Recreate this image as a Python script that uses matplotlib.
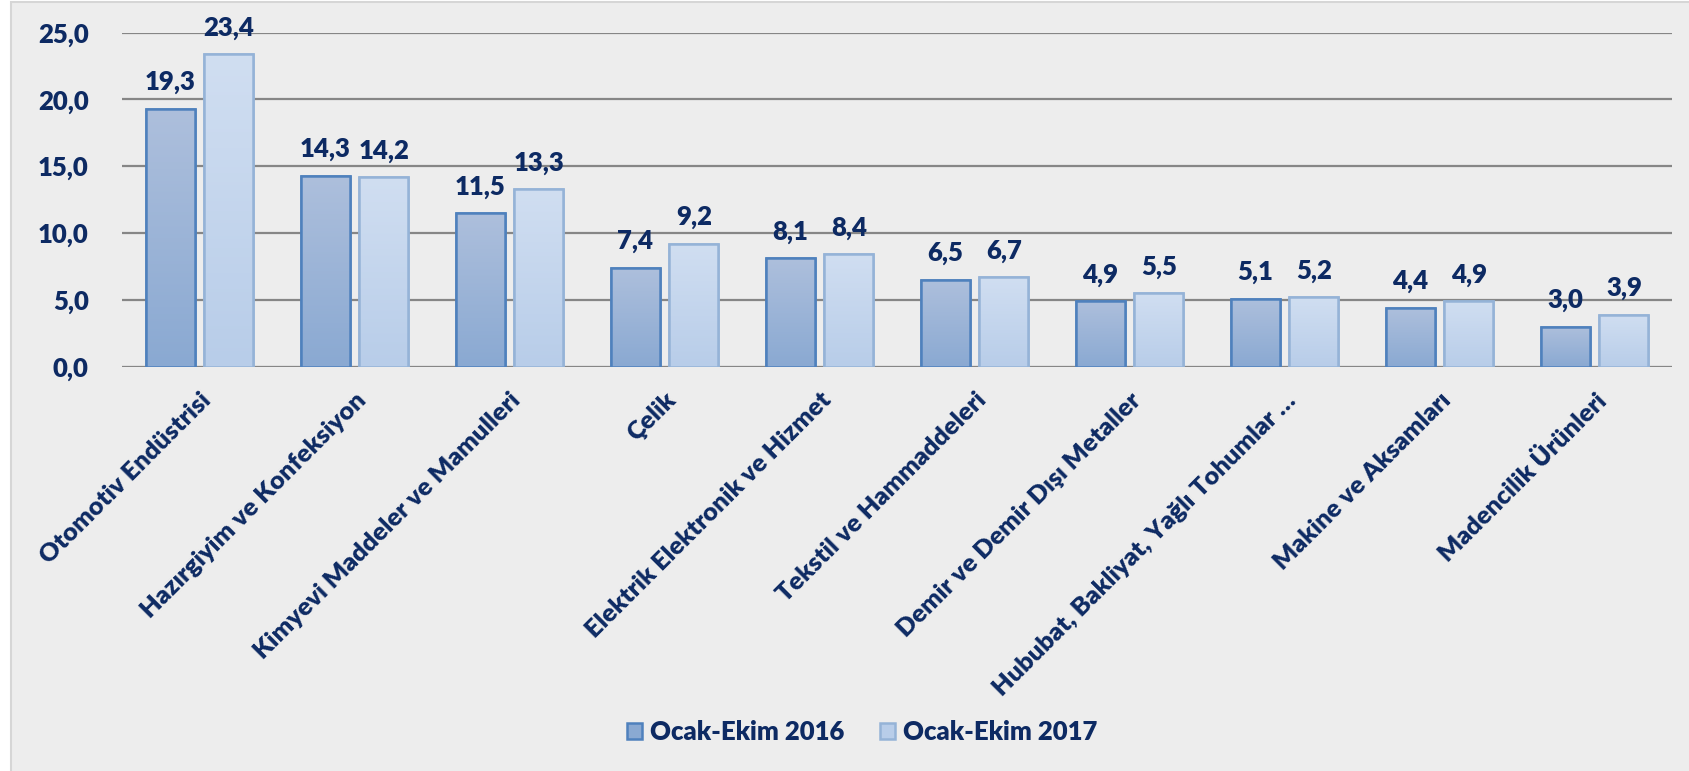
import matplotlib.pyplot as plt
import numpy as np
from matplotlib.patches import Rectangle
from matplotlib.colors import LinearSegmentedColormap

plt.rcParams['font.family'] = ['Lato', 'DejaVu Sans']
plt.rcParams['font.weight'] = 'heavy'

categories = ['Otomotiv Endüstrisi', 'Hazırgiyim ve Konfeksiyon',
              'Kimyevi Maddeler ve Mamulleri', 'Çelik',
              'Elektrik Elektronik ve Hizmet', 'Tekstil ve Hammaddeleri',
              'Demir ve Demir Dışı Metaller',
              'Hububat, Bakliyat, Yağlı Tohumlar …',
              'Makine ve Aksamları', 'Madencilik Ürünleri']
values_2016 = [19.3, 14.3, 11.5, 7.4, 8.1, 6.5, 4.9, 5.1, 4.4, 3.0]
values_2017 = [23.4, 14.2, 13.3, 9.2, 8.4, 6.7, 5.5, 5.2, 4.9, 3.9]
series_names = ['Ocak-Ekim 2016', 'Ocak-Ekim 2017']
yticks = [0, 5, 10, 15, 20, 25]

navy = '#0D2A63'
bg = '#EDEDED'
fs_num = 18.5
fs_cat = 18.3

fig = plt.figure(figsize=(16.9, 7.71), dpi=100, facecolor='white')
# grey panel with thin border, white strip on the left
fig.patches.append(Rectangle((11 / 1690, -0.01), 1.0, 1 - 2 / 771 + 0.01,
                             transform=fig.transFigure, facecolor=bg,
                             edgecolor='#D6D6D6', linewidth=1.5, zorder=-10))

ax = fig.add_axes([122 / 1690, 1 - 366.7 / 771, 1550 / 1690, (366.7 - 32.7) / 771])
ax.set_facecolor('none')

x = np.arange(len(categories))
w = 0.316
off = 0.19

styles = [
    dict(top='#ADBFDC', bottom='#8AA9D2', edge='#4F81BD'),
    dict(top='#D0DEF1', bottom='#B8CDE9', edge='#95B3D7'),
]

for vals, shift, st, name in [(values_2016, -off, styles[0], series_names[0]),
                              (values_2017, off, styles[1], series_names[1])]:
    bars = ax.bar(x + shift, vals, w, facecolor=st['bottom'], edgecolor=st['edge'],
                  linewidth=1.8, zorder=3, label=name)
    cmap = LinearSegmentedColormap.from_list('g', [st['bottom'], st['top']])
    grad = np.linspace(0, 1, 100).reshape(-1, 1)
    for b, v in zip(bars, vals):
        im = ax.imshow(grad, cmap=cmap, origin='lower', aspect='auto',
                       extent=(b.get_x(), b.get_x() + b.get_width(), 0, v),
                       zorder=3.5)
        im.set_clip_path(b)
        ax.add_patch(Rectangle((b.get_x(), 0), b.get_width(), v, facecolor='none',
                               edgecolor=st['edge'], linewidth=1.8, zorder=4))
        ax.annotate(f'{v:.1f}'.replace('.', ','), (b.get_x() + b.get_width() / 2, v),
                    xytext=(0, 13.5), textcoords='offset points', ha='center',
                    va='baseline', fontsize=fs_num, color=navy)

ax.set_xlim(-0.5, len(categories) - 0.5)
ax.set_ylim(0, 25)
ax.set_yticks(yticks)
ax.set_yticklabels([f'{t:.1f}'.replace('.', ',') for t in yticks])
ax.grid(axis='y', color='#868686', linewidth=1.6, zorder=0)
ax.axhline(0, color='#D9D9D9', linewidth=1.6, zorder=1)
for s in ax.spines.values():
    s.set_visible(False)
ax.tick_params(axis='y', length=0, pad=24, labelsize=fs_num, labelcolor=navy)
ax.tick_params(axis='x', length=0, pad=16, labelsize=fs_cat, labelcolor=navy)
ax.set_xticks(x)
ax.set_xticklabels(categories, rotation=45, ha='right', rotation_mode='anchor')
ax.set_ylim(0, 25)

leg = ax.legend(loc='center', bbox_to_anchor=(862 / 1690, 1 - 732 / 771),
                bbox_transform=fig.transFigure, ncol=2, frameon=False,
                fontsize=fs_num, handlelength=0.6, handleheight=0.6,
                columnspacing=1.4, handletextpad=0.3)
for t in leg.get_texts():
    t.set_color(navy)

fig.savefig('out.png', dpi=100, facecolor='white')
